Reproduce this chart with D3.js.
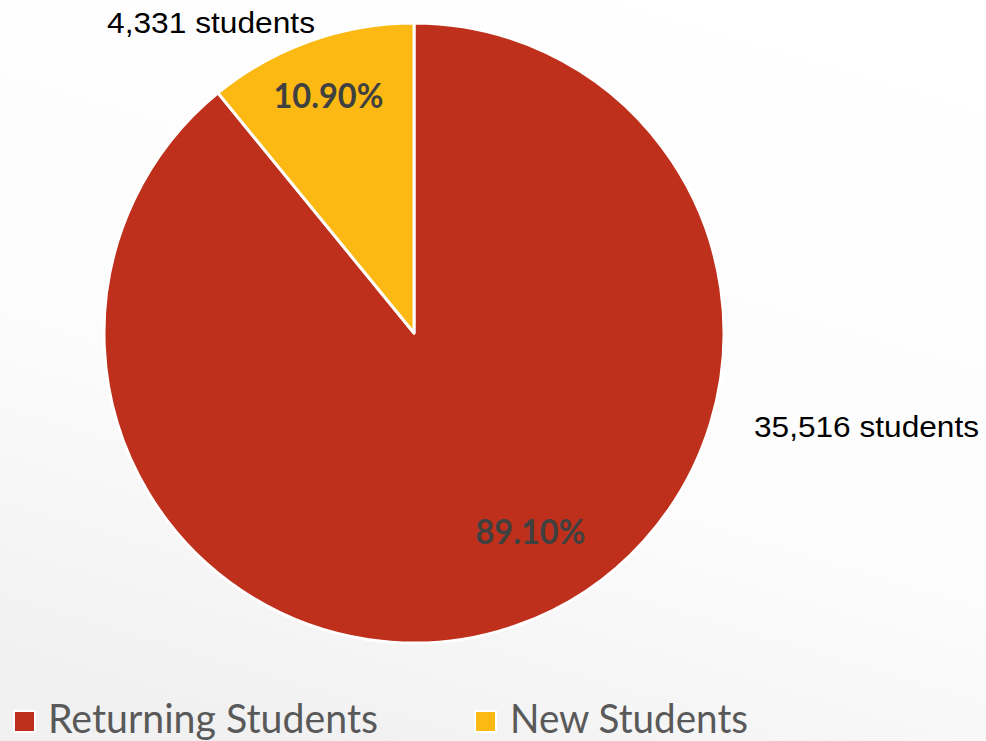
<!DOCTYPE html>
<html>
<head>
<meta charset="utf-8">
<script src="https://cdn.jsdelivr.net/npm/d3@7"></script>
<style>
html,body{margin:0;padding:0;background:#fff;}
svg{display:block;}
</style>
</head>
<body>
<svg id="chart" width="986" height="741"></svg>
<script>
const categories = ["Returning Students", "New Students"];
const percentages = [89.10, 10.90];
const counts = ["35,516 students", "4,331 students"];
const colors = ["#BE301B", "#FDB913"];

const W = 986, H = 741;
const svg = d3.select("#chart");

const defs = svg.append("defs");
const grad = defs.append("linearGradient").attr("id","bg")
  .attr("x1","0.7").attr("y1","0").attr("x2","0.3").attr("y2","1");
grad.append("stop").attr("offset","0").attr("stop-color","#ffffff");
grad.append("stop").attr("offset","0.6").attr("stop-color","#fcfcfc");
grad.append("stop").attr("offset","1").attr("stop-color","#f1f1f1");
svg.append("rect").attr("width",W).attr("height",H).attr("fill","url(#bg)");

const cx = 414, cy = 333, R = 310;
const g = svg.append("g").attr("transform",`translate(${cx},${cy})`);

const pie = d3.pie().sort(null).value(d => d.v);
const data = categories.map((c,i)=>({c, v:percentages[i], n:counts[i], col:colors[i]}));
const arcs = pie(data);
const arc = d3.arc().innerRadius(0).outerRadius(R);

g.selectAll("path.slice").data(arcs).enter().append("path")
  .attr("class","slice")
  .attr("d", arc)
  .attr("fill", d => d.data.col)
  .attr("stroke", "#ffffff")
  .attr("stroke-width", 3)
  .attr("stroke-linejoin","round");

// percentage labels (inside)
const pctPos = [
  {r: 0.74*R, a: 149.5},
  {r: 0.815*R, a: -19.8}
];
const toXY = (r,aDeg)=>{const a=aDeg*Math.PI/180; return [r*Math.sin(a), -r*Math.cos(a)];};
g.selectAll("text.pct").data(arcs).enter().append("text")
  .attr("class","pct")
  .attr("x", (d,i)=>toXY(pctPos[i].r,pctPos[i].a)[0])
  .attr("y", (d,i)=>toXY(pctPos[i].r,pctPos[i].a)[1] + 13)
  .attr("text-anchor","middle")
  .attr("font-family","Lato, 'Open Sans', sans-serif")
  .attr("font-weight","bold")
  .attr("font-size", 35)
  .attr("fill","#404040")
  .attr("textLength", 110)
  .attr("lengthAdjust","spacingAndGlyphs")
  .text(d => d.data.v.toFixed(2) + "%");

// count labels (outside)
const cntPos = [
  {x: 754 - cx, y: 437 - cy, anchor: "start"},
  {x: 315 - cx, y: 33 - cy, anchor: "end"}
];
g.selectAll("text.cnt").data(arcs).enter().append("text")
  .attr("class","cnt")
  .attr("x", (d,i)=>cntPos[i].x)
  .attr("y", (d,i)=>cntPos[i].y)
  .attr("text-anchor", (d,i)=>cntPos[i].anchor)
  .attr("font-family","'Liberation Sans', Arial, sans-serif")
  .attr("font-size", 29)
  .attr("fill","#000000")
  .attr("textLength", (d,i)=> i===0 ? 225 : 208)
  .attr("lengthAdjust","spacingAndGlyphs")
  .text(d => d.data.n);

// legend
const legX = [15, 476];
const legTextW = [330, 238];
const leg = svg.append("g");
const items = leg.selectAll("g").data(data).enter().append("g")
  .attr("transform",(d,i)=>`translate(${legX[i]},712)`);
items.append("rect").attr("x",-2).attr("y",-2).attr("width",23).attr("height",23).attr("fill","#ffffff");
items.append("rect").attr("width",19).attr("height",19).attr("fill",d=>d.col);
items.append("text")
  .attr("x", (d,i)=> i===0 ? 33 : 34)
  .attr("y", 21)
  .attr("font-family","Lato, 'Open Sans', sans-serif")
  .attr("font-size", 40)
  .attr("fill","#595959")
  .attr("textLength",(d,i)=>legTextW[i])
  .attr("lengthAdjust","spacingAndGlyphs")
  .text(d=>d.c);
</script>
</body>
</html>
